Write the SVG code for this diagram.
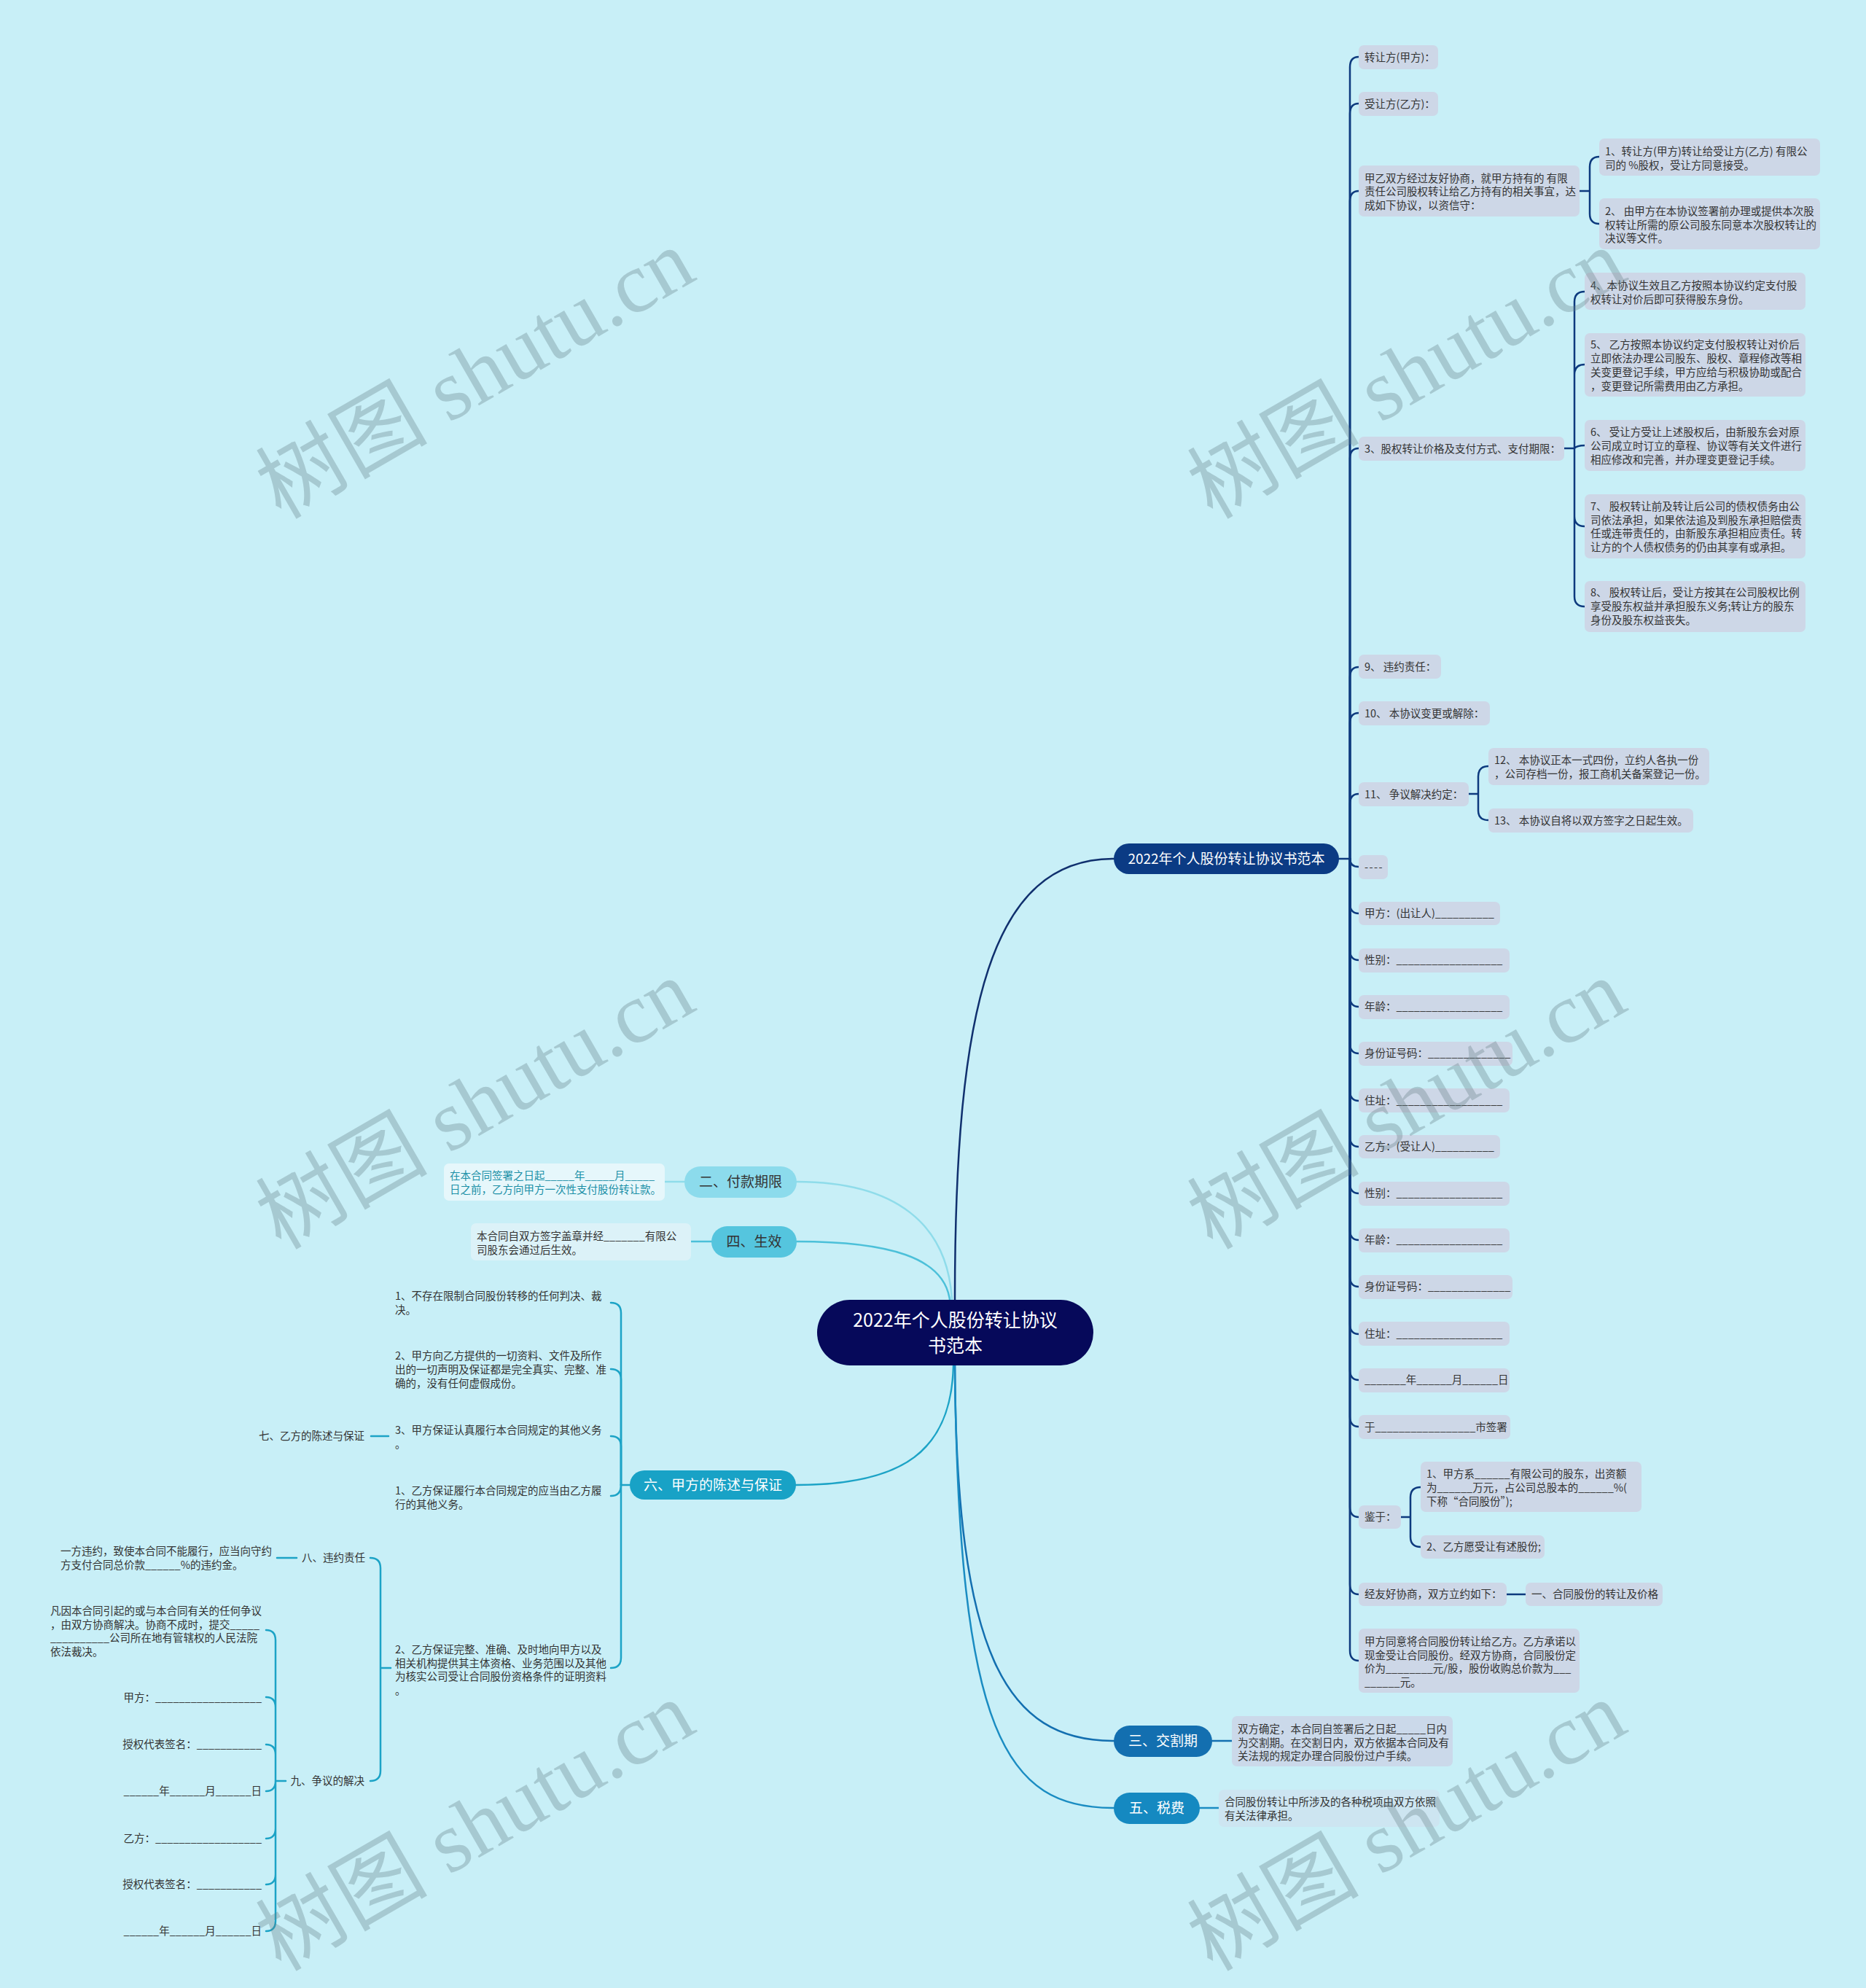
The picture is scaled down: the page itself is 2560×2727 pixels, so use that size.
<svg xmlns="http://www.w3.org/2000/svg" width="2560" height="2727" viewBox="0 0 2560 2727">
<style>
text{font-family:'Noto Sans CJK SC','Noto Sans',sans-serif;}
.t{font-size:14.5px;fill:#333;}
.e{text-anchor:end;}
.b{fill:#cdd7e7;}
.l1{font-size:19px;fill:#fff;text-anchor:middle;}
.l1d{font-size:19px;fill:#333;text-anchor:middle;}
.c{fill:none;stroke-width:2.5;stroke-linecap:round;}
.cr{stroke:#0d3a7e;}
.cl{stroke:#1ca3c6;}
.wm{font-family:'Liberation Serif','Noto Sans CJK SC',serif;font-size:118px;fill:#647f86;opacity:0.33;text-anchor:middle;}
</style>
<rect width="2560" height="2727" fill="#c8eff7"/>

<g id="connectors">
<path class="c" stroke="#10306e" stroke-width="2" d="M1310,1783 C1310,1380 1360,1178 1528,1178"/>
<path class="c" stroke="#8fdcea" d="M1306,1783 C1300,1680 1230,1621 1093,1621"/>
<path class="c" stroke="#4cc0d9" d="M1303,1783 C1295,1725 1220,1703 1093,1703"/>
<path class="c" stroke="#1ca3c6" d="M1308,1873 C1305,1990 1240,2037 1092,2037"/>
<path class="c" stroke="#136fb0" d="M1310,1873 C1312,2270 1380,2388 1528,2388"/>
<path class="c" stroke="#1a8cc2" d="M1310,1873 C1315,2380 1380,2480 1528,2480"/>
<path class="c" stroke="#8fdcea" d="M912,1621 H939"/>
<path class="c" stroke="#4cc0d9" d="M948,1703 H976"/>
<path class="c" stroke="#136fb0" d="M1663,2388 H1690"/>
<path class="c" stroke="#1a8cc2" d="M1646,2480 H1672"/>
<g class="c cr">
<path d="M1837,1178 H1852"/>
<path d="M1852,1178 V92 Q1852,78 1864,78"/>
<path d="M1852,1178 V156 Q1852,142 1864,142"/>
<path d="M1852,1178 V276 Q1852,262 1864,262"/>
<path d="M1852,1178 V629 Q1852,615 1864,615"/>
<path d="M1852,1178 V929 Q1852,915 1864,915"/>
<path d="M1852,1178 V992 Q1852,978 1864,978"/>
<path d="M1852,1178 V1103 Q1852,1089 1864,1089"/>
<path d="M1852,1178 Q1852,1189 1864,1189"/>
<path d="M1852,1178 V1239 Q1852,1253 1864,1253"/>
<path d="M1852,1178 V1303 Q1852,1317 1864,1317"/>
<path d="M1852,1178 V1367 Q1852,1381 1864,1381"/>
<path d="M1852,1178 V1431 Q1852,1445 1864,1445"/>
<path d="M1852,1178 V1496 Q1852,1510 1864,1510"/>
<path d="M1852,1178 V1559 Q1852,1573 1864,1573"/>
<path d="M1852,1178 V1623 Q1852,1637 1864,1637"/>
<path d="M1852,1178 V1687 Q1852,1701 1864,1701"/>
<path d="M1852,1178 V1751 Q1852,1765 1864,1765"/>
<path d="M1852,1178 V1816 Q1852,1830 1864,1830"/>
<path d="M1852,1178 V1879 Q1852,1893 1864,1893"/>
<path d="M1852,1178 V1943 Q1852,1957 1864,1957"/>
<path d="M1852,1178 V2067 Q1852,2081 1864,2081"/>
<path d="M1852,1178 V2173 Q1852,2187 1864,2187"/>
<path d="M1852,1178 V2264 Q1852,2278 1864,2278"/>
<path d="M2167,262 H2181 M2181,262 V229 Q2181,215 2194,215 M2181,262 V293 Q2181,307 2194,307"/>
<path d="M2146,615 H2160 M2160,615 V414 Q2160,400 2174,400 M2160,615 V514 Q2160,500 2174,500 M2160,615 Q2163,611 2174,611 M2160,615 V708 Q2160,722 2174,722 M2160,615 V818 Q2160,832 2174,832"/>
<path d="M2015,1089 H2028 M2028,1089 V1065 Q2028,1051 2042,1051 M2028,1089 V1112 Q2028,1125 2042,1125"/>
<path d="M1922,2081 H1935 M1935,2081 V2054 Q1935,2040 1949,2040 M1935,2081 V2108 Q1935,2122 1949,2122"/>
<path d="M2067,2187 H2093"/>
</g>
<g class="c cl">
<path d="M864,2037 H852"/>
<path d="M852,2037 V1801 Q852,1787 838,1787"/>
<path d="M852,2037 V1892 Q852,1878 838,1878"/>
<path d="M852,2037 V1984 Q852,1970 838,1970"/>
<path d="M852,2037 Q852,2052 838,2052"/>
<path d="M852,2037 V2274 Q852,2288 838,2288"/>
<path d="M533,1970 H509"/>
<path d="M536,2288 H522 M522,2288 V2151 Q522,2137 508,2137 M522,2288 V2429 Q522,2443 508,2443"/>
<path d="M407,2137 H380"/>
<path d="M392,2443 H378 M378,2443 V2250 Q378,2236 365,2236 M378,2443 V2342 Q378,2328 365,2328 M378,2443 V2407 Q378,2393 365,2393 M378,2443 Q378,2457 365,2457 M378,2443 V2508 Q378,2522 365,2522 M378,2443 V2571 Q378,2585 365,2585 M378,2443 V2635 Q378,2649 365,2649"/>
</g>
</g>

<g id="root">
<rect x="1121" y="1783" width="379" height="90" rx="45" fill="#06095a"/>
<text x="1310.5" y="1820" font-size="25" fill="#fff" text-anchor="middle">2022年个人股份转让协议</text>
<text x="1310.5" y="1855" font-size="25" fill="#fff" text-anchor="middle">书范本</text>
</g>

<g id="n-main">
<rect x="1528" y="1157" width="309" height="42" rx="21" fill="#0b3b84"/>
<text class="l1" x="1682.5" y="1185">2022年个人股份转让协议书范本</text>
</g>
<g id="n-r1"><rect class="b" x="1864" y="62" width="109" height="33" rx="7"/><text class="t" x="1872" y="83.5">转让方(甲方)：</text></g>
<g id="n-r2"><rect class="b" x="1864" y="126" width="109" height="33" rx="7"/><text class="t" x="1872" y="147.5">受让方(乙方)：</text></g>
<g id="n-r3"><rect class="b" x="1864" y="227" width="303" height="70" rx="7"/><text class="t" x="1872" y="249.5">甲乙双方经过友好协商，就甲方持有的 有限</text><text class="t" x="1872" y="268">责任公司股权转让给乙方持有的相关事宜，达</text><text class="t" x="1872" y="286.5">成如下协议，以资信守：</text></g>
<g id="n-r3a"><rect class="b" x="2194" y="190" width="303" height="51" rx="7"/><text class="t" x="2202" y="213">1、转让方(甲方)转让给受让方(乙方) 有限公</text><text class="t" x="2202" y="231.5">司的 %股权，受让方同意接受。</text></g>
<g id="n-r3b"><rect class="b" x="2194" y="272" width="303" height="70" rx="7"/><text class="t" x="2202" y="295">2、 由甲方在本协议签署前办理或提供本次股</text><text class="t" x="2202" y="313.5">权转让所需的原公司股东同意本次股权转让的</text><text class="t" x="2202" y="332">决议等文件。</text></g>
<g id="n-r4"><rect class="b" x="1864" y="599" width="282" height="33" rx="7"/><text class="t" x="1872" y="620.5">3、股权转让价格及支付方式、支付期限：</text></g>
<g id="n-r4a"><rect class="b" x="2174" y="374" width="303" height="51" rx="7"/><text class="t" x="2182" y="397">4、本协议生效且乙方按照本协议约定支付股</text><text class="t" x="2182" y="415.5">权转让对价后即可获得股东身份。</text></g>
<g id="n-r4b"><rect class="b" x="2174" y="457" width="303" height="87" rx="7"/><text class="t" x="2182" y="478">5、 乙方按照本协议约定支付股权转让对价后</text><text class="t" x="2182" y="497">立即依法办理公司股东、股权、章程修改等相</text><text class="t" x="2182" y="516">关变更登记手续，甲方应给与积极协助或配合</text><text class="t" x="2182" y="534.5">，变更登记所需费用由乙方承担。</text></g>
<g id="n-r4c"><rect class="b" x="2174" y="576" width="303" height="70" rx="7"/><text class="t" x="2182" y="598">6、 受让方受让上述股权后，由新股东会对原</text><text class="t" x="2182" y="617">公司成立时订立的章程、协议等有关文件进行</text><text class="t" x="2182" y="635.5">相应修改和完善，并办理变更登记手续。</text></g>
<g id="n-r4d"><rect class="b" x="2174" y="678" width="303" height="88" rx="7"/><text class="t" x="2182" y="700">7、 股权转让前及转让后公司的债权债务由公</text><text class="t" x="2182" y="718.5">司依法承担，如果依法追及到股东承担赔偿责</text><text class="t" x="2182" y="737">任或连带责任的，由新股东承担相应责任。转</text><text class="t" x="2182" y="755.5">让方的个人债权债务的仍由其享有或承担。</text></g>
<g id="n-r4e"><rect class="b" x="2174" y="797" width="303" height="70" rx="7"/><text class="t" x="2182" y="818">8、 股权转让后，受让方按其在公司股权比例</text><text class="t" x="2182" y="837">享受股东权益并承担股东义务;转让方的股东</text><text class="t" x="2182" y="855.5">身份及股东权益丧失。</text></g>
<g id="n-r5"><rect class="b" x="1864" y="898" width="113" height="33" rx="7"/><text class="t" x="1872" y="919.5">9、 违约责任：</text></g>
<g id="n-r6"><rect class="b" x="1864" y="962" width="180" height="33" rx="7"/><text class="t" x="1872" y="983.5">10、 本协议变更或解除：</text></g>
<g id="n-r7"><rect class="b" x="1864" y="1073" width="151" height="33" rx="7"/><text class="t" x="1872" y="1094.5">11、 争议解决约定：</text></g>
<g id="n-r7a"><rect class="b" x="2042" y="1026" width="303" height="51" rx="7"/><text class="t" x="2050" y="1048">12、 本协议正本一式四份，立约人各执一份</text><text class="t" x="2050" y="1067">，公司存档一份，报工商机关备案登记一份。</text></g>
<g id="n-r7b"><rect class="b" x="2042" y="1109" width="281" height="33" rx="7"/><text class="t" x="2050" y="1130.5">13、 本协议自将以双方签字之日起生效。</text></g>
<g id="n-r8"><rect class="b" x="1864" y="1173" width="40" height="33" rx="7"/><text class="t" x="1872" y="1194.5" letter-spacing="1.5">----</text></g>
<g id="n-r9"><rect class="b" x="1864" y="1237" width="194" height="32" rx="7"/><text class="t" x="1872" y="1258">甲方：(出让人)__________</text></g>
<g id="n-r10"><rect class="b" x="1864" y="1301" width="207" height="33" rx="7"/><text class="t" x="1872" y="1322">性别：__________________</text></g>
<g id="n-r11"><rect class="b" x="1864" y="1365" width="207" height="33" rx="7"/><text class="t" x="1872" y="1386">年龄：__________________</text></g>
<g id="n-r12"><rect class="b" x="1864" y="1429" width="211" height="33" rx="7"/><text class="t" x="1872" y="1450">身份证号码：______________</text></g>
<g id="n-r13"><rect class="b" x="1864" y="1493" width="207" height="33" rx="7"/><text class="t" x="1872" y="1514.5">住址：__________________</text></g>
<g id="n-r14"><rect class="b" x="1864" y="1557" width="194" height="32" rx="7"/><text class="t" x="1872" y="1578">乙方：(受让人)__________</text></g>
<g id="n-r15"><rect class="b" x="1864" y="1621" width="207" height="33" rx="7"/><text class="t" x="1872" y="1642">性别：__________________</text></g>
<g id="n-r16"><rect class="b" x="1864" y="1685" width="207" height="33" rx="7"/><text class="t" x="1872" y="1706">年龄：__________________</text></g>
<g id="n-r17"><rect class="b" x="1864" y="1749" width="211" height="33" rx="7"/><text class="t" x="1872" y="1770">身份证号码：______________</text></g>
<g id="n-r18"><rect class="b" x="1864" y="1813" width="207" height="33" rx="7"/><text class="t" x="1872" y="1834.5">住址：__________________</text></g>
<g id="n-r19"><rect class="b" x="1864" y="1877" width="207" height="33" rx="7"/><text class="t" x="1872" y="1898">_______年______月______日</text></g>
<g id="n-r20"><rect class="b" x="1864" y="1941" width="208" height="33" rx="7"/><text class="t" x="1872" y="1962.5">于_________________市签署</text></g>
<g id="n-r21"><rect class="b" x="1864" y="2065" width="58" height="32" rx="7"/><text class="t" x="1872" y="2086">鉴于：</text></g>
<g id="n-r21a"><rect class="b" x="1949" y="2005" width="303" height="69" rx="7"/><text class="t" x="1957" y="2027">1、甲方系______有限公司的股东，出资额</text><text class="t" x="1957" y="2046">为______万元，占公司总股本的______%(</text><text class="t" x="1957" y="2064.5">下称“合同股份”);</text></g>
<g id="n-r21b"><rect class="b" x="1949" y="2106" width="170" height="32" rx="7"/><text class="t" x="1957" y="2127">2、乙方愿受让有述股份;</text></g>
<g id="n-r22"><rect class="b" x="1864" y="2171" width="203" height="32" rx="7"/><text class="t" x="1872" y="2192">经友好协商，双方立约如下：</text></g>
<g id="n-r22a"><rect class="b" x="2093" y="2171" width="188" height="32" rx="7"/><text class="t" x="2101" y="2192">一、合同股份的转让及价格</text></g>
<g id="n-r23"><rect class="b" x="1864" y="2234" width="303" height="88" rx="7"/><text class="t" x="1872" y="2257">甲方同意将合同股份转让给乙方。乙方承诺以</text><text class="t" x="1872" y="2275.5">现金受让合同股份。经双方协商，合同股份定</text><text class="t" x="1872" y="2294">价为________元/股，股份收购总价款为___</text><text class="t" x="1872" y="2312.5">______元。</text></g>

<g id="n-3">
<rect x="1528" y="2367" width="135" height="43" rx="21.5" fill="#136fb0"/>
<text class="l1" x="1595.5" y="2395">三、交割期</text>
</g>
<g id="n-3a"><rect x="1690" y="2354" width="303" height="69" rx="7" fill="#cbd9ea"/><text class="t" x="1698" y="2377">双方确定，本合同自签署后之日起_____日内</text><text class="t" x="1698" y="2395.5">为交割期。在交割日内，双方依据本合同及有</text><text class="t" x="1698" y="2414">关法规的规定办理合同股份过户手续。</text></g>
<g id="n-5">
<rect x="1528" y="2459" width="118" height="43" rx="21.5" fill="#1589c1"/>
<text class="l1" x="1587" y="2487">五、税费</text>
</g>
<g id="n-5a"><rect x="1672" y="2455" width="303" height="51" rx="7" fill="#cde5f1"/><text class="t" x="1680" y="2477">合同股份转让中所涉及的各种税项由双方依照</text><text class="t" x="1680" y="2496">有关法律承担。</text></g>

<g id="n-2">
<rect x="939" y="1600" width="154" height="43" rx="21.5" fill="#8cdbec"/>
<text class="l1d" x="1016" y="1628">二、付款期限</text>
</g>
<g id="n-2a"><rect x="609" y="1596" width="303" height="51" rx="7" fill="#e6f7fb"/><text class="t" x="617" y="1618" style="fill:#1a8fa6">在本合同签署之日起_____年_____月_____</text><text class="t" x="617" y="1637" style="fill:#1a8fa6">日之前，乙方向甲方一次性支付股份转让款。</text></g>
<g id="n-4">
<rect x="976" y="1682" width="117" height="43" rx="21.5" fill="#55c5de"/>
<text class="l1d" x="1034.5" y="1710">四、生效</text>
</g>
<g id="n-4a"><rect x="646" y="1678" width="302" height="51" rx="7" fill="#dcf2f8"/><text class="t" x="654" y="1701">本合同自双方签字盖章并经_______有限公</text><text class="t" x="654" y="1719.5">司股东会通过后生效。</text></g>

<g id="n-6">
<rect x="864" y="2017" width="228" height="40" rx="20" fill="#18a2c6"/>
<text class="l1" x="978" y="2044">六、甲方的陈述与保证</text>
</g>
<g id="n-6a"><text class="t" x="542" y="1783">1、不存在限制合同股份转移的任何判决、裁</text><text class="t" x="542" y="1802">决。</text></g>
<g id="n-6b"><text class="t" x="542" y="1865">2、甲方向乙方提供的一切资料、文件及所作</text><text class="t" x="542" y="1884">出的一切声明及保证都是完全真实、完整、准</text><text class="t" x="542" y="1903">确的，没有任何虚假成份。</text></g>
<g id="n-6c"><text class="t" x="542" y="1967">3、甲方保证认真履行本合同规定的其他义务</text><text class="t" x="542" y="1986">。</text></g>
<g id="n-7"><text class="t e" x="500" y="1975">七、乙方的陈述与保证</text></g>
<g id="n-6d"><text class="t" x="542" y="2050">1、乙方保证履行本合同规定的应当由乙方履</text><text class="t" x="542" y="2068.5">行的其他义务。</text></g>
<g id="n-6e"><text class="t" x="542" y="2268">2、乙方保证完整、准确、及时地向甲方以及</text><text class="t" x="542" y="2286.5">相关机构提供其主体资格、业务范围以及其他</text><text class="t" x="542" y="2305">为核实公司受让合同股份资格条件的证明资料</text><text class="t" x="542" y="2324">。</text></g>
<g id="n-8"><text class="t e" x="501" y="2142">八、违约责任</text></g>
<g id="n-8a"><text class="t" x="83" y="2133">一方违约，致使本合同不能履行，应当向守约</text><text class="t" x="83" y="2151.5">方支付合同总价款______%的违约金。</text></g>
<g id="n-9"><text class="t e" x="500" y="2448">九、争议的解决</text></g>
<g id="n-9a"><text class="t" x="69" y="2215">凡因本合同引起的或与本合同有关的任何争议</text><text class="t" x="69" y="2233.5">，由双方协商解决。协商不成时，提交_____</text><text class="t" x="69" y="2252">__________公司所在地有管辖权的人民法院</text><text class="t" x="69" y="2271">依法裁决。</text></g>
<g id="n-9b"><text class="t e" x="359" y="2334">甲方：__________________</text></g>
<g id="n-9c"><text class="t e" x="359" y="2398">授权代表签名：___________</text></g>
<g id="n-9d"><text class="t e" x="359" y="2462">______年______月______日</text></g>
<g id="n-9e"><text class="t e" x="359" y="2527">乙方：__________________</text></g>
<g id="n-9f"><text class="t e" x="359" y="2590">授权代表签名：___________</text></g>
<g id="n-9g"><text class="t e" x="359" y="2654">______年______月______日</text></g>

<g id="watermarks">
<text class="wm" transform="translate(652,513) rotate(-30)" y="40">树图 shutu.cn</text>
<text class="wm" transform="translate(1930,513) rotate(-30)" y="40">树图 shutu.cn</text>
<text class="wm" transform="translate(652,1515) rotate(-30)" y="40">树图 shutu.cn</text>
<text class="wm" transform="translate(1930,1515) rotate(-30)" y="40">树图 shutu.cn</text>
<text class="wm" transform="translate(652,2505) rotate(-30)" y="40">树图 shutu.cn</text>
<text class="wm" transform="translate(1930,2505) rotate(-30)" y="40">树图 shutu.cn</text>
</g>
</svg>
